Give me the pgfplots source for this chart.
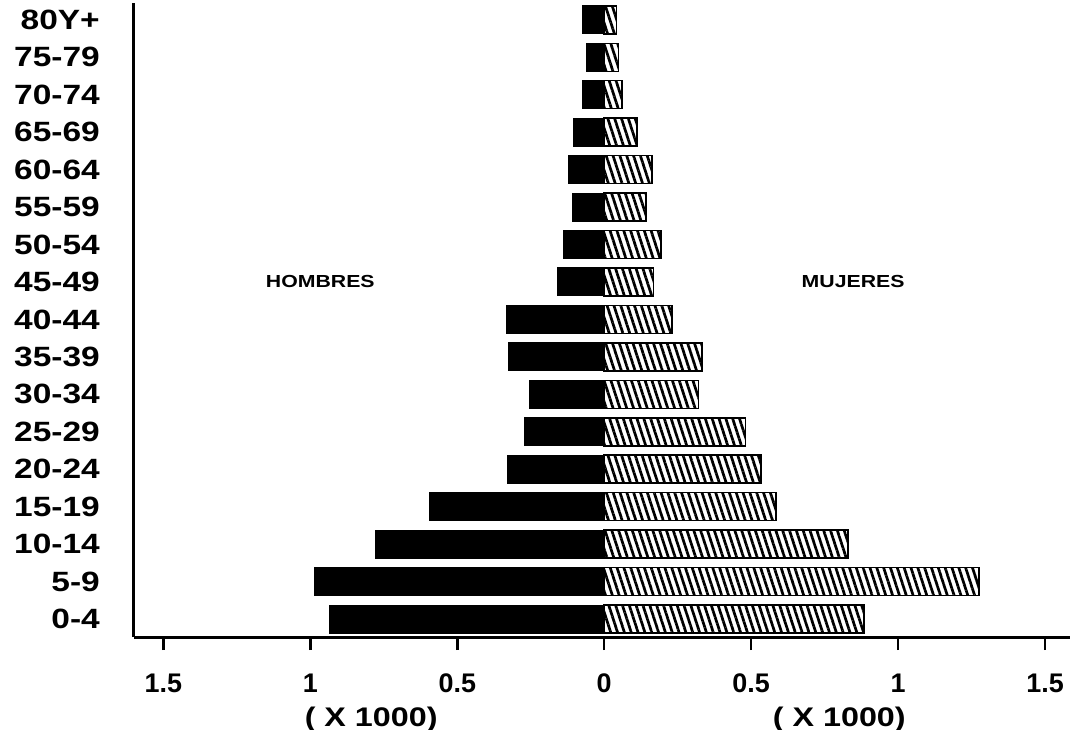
\documentclass[border=0pt]{standalone}
\usepackage{fontspec}
\setmainfont{Liberation Sans}
\newfontfamily\ylabfont{Liberation Sans}[FakeStretch=1.2]
\newfontfamily\widefont{Liberation Sans}[FakeStretch=1.22]
\usepackage{pgfplots}
\pgfplotsset{compat=1.18}
\usetikzlibrary{patterns.meta}
\pgfplotstableread{
y men women
16 -0.075 0.041
15 -0.061 0.048
14 -0.075 0.061
13 -0.105 0.112
12 -0.122 0.163
11 -0.109 0.143
10 -0.139 0.194
9 -0.160 0.167
8 -0.333 0.231
7 -0.327 0.333
6 -0.255 0.320
5 -0.272 0.480
4 -0.330 0.534
3 -0.595 0.585
2 -0.779 0.830
1 -0.986 1.276
0 -0.935 0.884
}\pyr
\begin{document}
\begin{tikzpicture}
\begin{axis}[
  scale only axis,
  width=936bp, height=634bp,
  xmin=-1.6, xmax=1.585,
  ymin=-0.48, ymax=16.45,
  axis lines=left,
  axis line style={-, line width=3bp},
  clip=false,
  xtick={-1.5,-1,-0.5,0,0.5,1,1.5},
  xticklabels={1.5,1,0.5,0,0.5,1,1.5},
  ytick={0,...,16},
  yticklabels={0-4,5-9,10-14,15-19,20-24,25-29,30-34,35-39,40-44,45-49,50-54,55-59,60-64,65-69,70-74,75-79,80Y+},
  tick align=outside,
  x tick style={line width=2.5bp, black},
  major tick length=13bp,
  ytick style={draw=none},
  /pgf/number format/assume math mode=true,
  xticklabel style={font=\fontsize{27}{27}\selectfont\bfseries, anchor=base, inner sep=0pt, yshift=-42bp},
  yticklabel style={font=\ylabfont\fontsize{28}{28}\selectfont\bfseries, anchor=east, inner sep=0pt, xshift=-21bp},
  xbar, bar width=28bp, bar shift=0pt,
]
\addplot[fill=black, draw=black, line width=1bp] table[x=men, y=y] {\pyr};
\addplot[draw=black, line width=1.5bp, pattern={Lines[angle=-72, distance=6.5bp, line width=2.7bp]}] table[x=women, y=y] {\pyr};
\node[font=\widefont\fontsize{17.5}{18}\selectfont\bfseries] at (axis cs:-0.966,9) {HOMBRES};
\node[font=\widefont\fontsize{17.5}{18}\selectfont\bfseries] at (axis cs:0.847,9) {MUJERES};
\node[font=\ylabfont\fontsize{27}{27}\selectfont\bfseries, anchor=base, inner sep=0pt] at ([yshift=-89bp]axis cs:-0.793,-0.48) {( X 1000)};
\node[font=\ylabfont\fontsize{27}{27}\selectfont\bfseries, anchor=base, inner sep=0pt] at ([yshift=-89bp]axis cs:0.80,-0.48) {( X 1000)};
\end{axis}
\pgfresetboundingbox
\path ([xshift=-134bp,yshift=-93bp]current axis.south west) rectangle ++(1070bp,730bp);
\end{tikzpicture}
\end{document}
